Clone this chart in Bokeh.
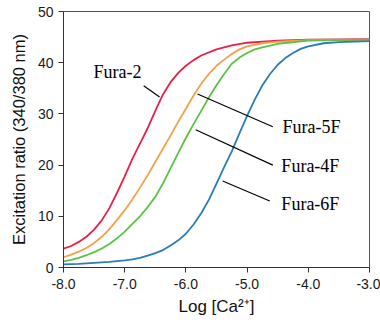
from bokeh.plotting import figure
from bokeh.models import NumeralTickFormatter, FixedTicker, Range1d
from bokeh.core.properties import value
from bokeh.embed import file_html
from bokeh.resources import INLINE

# --- data ---
x_fura2 = [-8.0, -7.875, -7.75, -7.625, -7.5, -7.375, -7.25, -7.125, -7.0, -6.875, -6.75, -6.625, -6.5,
           -6.375, -6.25, -6.125, -6.0, -5.875, -5.75, -5.5, -5.25, -5.0, -4.5, -4.0, -3.0]
y_fura2 = [3.7, 4.2, 5.0, 6.0, 7.4, 9.2, 11.6, 14.6, 17.8, 21.2, 24.2, 27.2, 30.6,
           33.8, 36.2, 38.0, 39.4, 40.5, 41.4, 42.6, 43.4, 43.9, 44.3, 44.5, 44.6]

x_fura5f = [-8.0, -7.875, -7.75, -7.625, -7.5, -7.375, -7.25, -7.125, -7.0, -6.875, -6.75, -6.625, -6.5,
            -6.375, -6.25, -6.125, -6.0, -5.875, -5.75, -5.625, -5.5, -5.375, -5.25, -5.125, -5.0,
            -4.75, -4.5, -4.0, -3.0]
y_fura5f = [2.0, 2.5, 3.1, 3.8, 4.8, 6.0, 7.5, 9.3, 11.2, 13.3, 15.6, 18.0, 20.6,
            23.2, 25.8, 28.5, 31.0, 33.6, 35.9, 37.8, 39.4, 40.6, 41.7, 42.6, 43.2,
            43.8, 44.1, 44.4, 44.5]

x_fura4f = [-8.0, -7.875, -7.75, -7.625, -7.5, -7.375, -7.25, -7.125, -7.0, -6.875, -6.75, -6.625, -6.5,
            -6.375, -6.25, -6.125, -6.0, -5.875, -5.75, -5.625, -5.5, -5.375, -5.25, -5.125, -5.0,
            -4.875, -4.75, -4.5, -4.0, -3.0]
y_fura4f = [1.2, 1.5, 1.9, 2.4, 3.0, 3.7, 4.6, 5.7, 7.0, 8.5, 10.0, 11.8, 13.8,
            16.4, 19.4, 22.4, 25.3, 28.0, 30.6, 33.2, 35.6, 37.8, 39.8, 41.0, 41.9,
            42.6, 43.0, 43.7, 44.3, 44.5]

x_fura6f = [-8.0, -7.75, -7.5, -7.25, -7.0, -6.875, -6.75, -6.625, -6.5, -6.375, -6.25, -6.125, -6.0,
            -5.875, -5.75, -5.625, -5.5, -5.375, -5.25, -5.125, -5.0, -4.875, -4.75, -4.625, -4.5,
            -4.375, -4.25, -4.125, -4.0, -3.75, -3.5, -3.0]
y_fura6f = [0.6, 0.7, 0.9, 1.1, 1.4, 1.6, 1.9, 2.3, 2.8, 3.4, 4.3, 5.3, 6.6,
            8.4, 10.6, 13.2, 16.4, 19.6, 22.7, 26.2, 29.6, 32.8, 35.6, 37.8, 39.6,
            40.9, 41.9, 42.7, 43.2, 43.8, 44.0, 44.2]

x_ticks = [-8, -7, -6, -5, -4, -3]
y_ticks = [0, 10, 20, 30, 40, 50]

labels = ["Fura-2", "Fura-5F", "Fura-4F", "Fura-6F"]
colors = ["#e8204b", "#f5a04b", "#5cc147", "#2a7bb8"]

# label anchor positions (data coords) and leader lines
label_x = [-7.51, -4.42, -4.44, -4.44]
label_y = [38.2, 27.5, 19.8, 12.4]
lead_x0 = [-6.69, -5.81, -5.84, -5.40]
lead_y0 = [35.5, 33.9, 26.9, 16.9]
lead_x1 = [-6.43, -4.58, -4.58, -4.63]
lead_y1 = [33.3, 27.5, 20.0, 13.0]

p = figure(width=380, height=322, output_backend="svg", toolbar_location=None,
           x_range=Range1d(-8, -3), y_range=Range1d(0, 50))
p.min_border_left = 63
p.min_border_right = 11
p.min_border_top = 11
p.min_border_bottom = 55
p.grid.visible = False
p.background_fill_color = "white"
p.border_fill_color = "white"
p.outline_line_color = "#555555"
p.outline_line_width = 1

series = [(x_fura2, y_fura2), (x_fura5f, y_fura5f), (x_fura4f, y_fura4f), (x_fura6f, y_fura6f)]
for (xs, ys), c in zip(series, colors):
    p.line(xs, ys, line_color=c, line_width=1.8)

p.segment(x0=lead_x0, y0=lead_y0, x1=lead_x1, y1=lead_y1, line_color="black", line_width=1.2)
p.text(x=label_x, y=label_y, text=labels, text_font=value("Liberation Serif"),
       text_font_size="18px", text_baseline="middle", text_align="left", text_color="black")

for ax in (p.xaxis[0], p.yaxis[0]):
    ax.axis_line_color = "#333333"
    ax.major_tick_line_color = "#333333"
    ax.minor_tick_line_color = None
    ax.major_tick_out = 5
    ax.major_tick_in = 0
    ax.major_label_text_font = "Liberation Sans"
    ax.major_label_text_font_size = "14px"
    ax.major_label_text_color = "#1a1a1a"
    ax.axis_label_text_font = "Liberation Sans"
    ax.axis_label_text_font_style = "normal"
    ax.axis_label_text_color = "#111111"

p.xaxis.axis_label_text_font_size = "17px"
p.yaxis.axis_label_text_font_size = "16.5px"
p.xaxis.ticker = FixedTicker(ticks=x_ticks)
p.yaxis.ticker = FixedTicker(ticks=y_ticks)
p.xaxis.formatter = NumeralTickFormatter(format="0.0")
p.xaxis.axis_label = "Log [Ca²⁺]"
p.yaxis.axis_label = "Excitation ratio (340/380 nm)"
p.xaxis.major_label_standoff = 6
p.xaxis.axis_label_standoff = 5
p.yaxis.major_label_standoff = 5
p.yaxis.axis_label_standoff = 7

open("out.html", "w").write(file_html(p, INLINE))
